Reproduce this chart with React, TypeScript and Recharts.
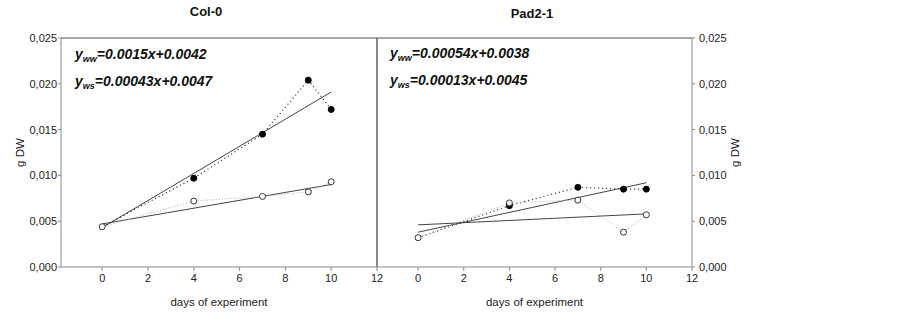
import { ComposedChart, Line, XAxis, YAxis, ReferenceLine } from 'recharts';

const DAYS = [0, 4, 7, 9, 10];
const X_TICKS = [0, 2, 4, 6, 8, 10, 12];
const Y_TICKS = [0, 0.005, 0.01, 0.015, 0.02, 0.025];

// Col-0
const COL_WW = [0.0044, 0.0097, 0.0145, 0.0204, 0.0172];
const COL_WS = [0.0044, 0.0072, 0.0077, 0.0082, 0.0093];
const COL_WW_FIT = [0.0043, null, null, null, 0.0191];
const COL_WS_FIT = [0.0047, null, null, null, 0.009];

// Pad2-1
const PAD_WW = [0.0032, 0.0067, 0.0087, 0.0085, 0.0085];
const PAD_WS = [0.0032, 0.007, 0.0073, 0.0038, 0.0057];
const PAD_WW_FIT = [0.0038, null, null, null, 0.0092];
const PAD_WS_FIT = [0.0046, null, null, null, 0.0058];

const FONT = '"Liberation Sans", Arial, sans-serif';
const AXIS = '#8c8c8c';
const TEXT = '#222';

function table(ww: number[], ws: number[], wwFit: (number | null)[], wsFit: (number | null)[]) {
  return DAYS.map((x, i) => ({ x, ww: ww[i], ws: ws[i], wwFit: wwFit[i], wsFit: wsFit[i] }));
}

const fmtY = (v: number) => v.toFixed(3).replace('.', ',');

const filledDot = (p: any) =>
  p.index === 0 ? <g key={p.index} /> : <circle key={p.index} cx={p.cx} cy={p.cy} r={3} fill="#000" stroke="#000" />;
const openDot = (p: any) => <circle key={p.index} cx={p.cx} cy={p.cy} r={3} fill="#fff" stroke="#333" strokeWidth={1} />;

function Panel({ data, side }: { data: any[]; side: 'left' | 'right' }) {
  const isLeft = side === 'left';
  return (
    <ComposedChart
      width={390}
      height={312}
      data={data}
      margin={isLeft ? { top: 38, right: 13, bottom: 10, left: 11 } : { top: 38, right: 14, bottom: 10, left: 11 }}
      style={{ fontFamily: FONT }}
    >
      <XAxis
        dataKey="x"
        type="number"
        domain={[-1.8, 12]}
        ticks={X_TICKS}
        allowDataOverflow
        height={35}
        tickSize={4}
        tickMargin={3}
        stroke={AXIS}
        tick={{ fill: TEXT, fontSize: 11 }}
        label={{ value: 'days of experiment', position: 'insideBottom', offset: -4, fill: TEXT, fontSize: 11.5 }}
      />
      <YAxis
        orientation={side}
        domain={[0, 0.025]}
        ticks={Y_TICKS}
        width={50}
        tickSize={3}
        tickMargin={isLeft ? 1 : 4}
        tickFormatter={fmtY}
        stroke={AXIS}
        tick={{ fill: TEXT, fontSize: 11 }}
        label={{ value: 'g DW', angle: -90, position: 'center', dx: isLeft ? -16 : 18, fill: TEXT, fontSize: 11.5 }}
      />
      <ReferenceLine y={0.025} stroke={AXIS} strokeWidth={1.5} />
      {isLeft && <ReferenceLine x={12} stroke="#111" strokeWidth={1} />}
      <Line dataKey="wwFit" stroke="#444" strokeWidth={1} dot={false} connectNulls isAnimationActive={false} />
      <Line dataKey="wsFit" stroke="#444" strokeWidth={1} dot={false} connectNulls isAnimationActive={false} />
      <Line dataKey="ww" stroke="#222" strokeWidth={1.2} strokeDasharray="1 3" dot={filledDot} isAnimationActive={false} />
      <Line dataKey="ws" stroke="#aaa" strokeWidth={1} strokeDasharray="1 2" dot={openDot} isAnimationActive={false} />
    </ComposedChart>
  );
}

function Equations({ left, top, ww, ws }: { left: number; top: number; ww: string; ws: string }) {
  const line = { position: 'absolute' as const, left, fontFamily: FONT, fontSize: 14, fontWeight: 700, fontStyle: 'italic', color: '#111', whiteSpace: 'nowrap' as const };
  const sub = { fontSize: 9, verticalAlign: -3 };
  return (
    <>
      <div style={{ ...line, top }}>
        y<span style={sub}>ww</span>={ww}
      </div>
      <div style={{ ...line, top: top + 27 }}>
        y<span style={sub}>ws</span>={ws}
      </div>
    </>
  );
}

export default function App() {
  const title = { position: 'absolute' as const, top: 4, fontFamily: FONT, fontSize: 13, fontWeight: 700, color: '#111', transform: 'translateX(-50%)' };
  return (
    <div style={{ position: 'absolute', left: 0, top: 0, width: 903, height: 312, background: '#fff' }}>
      <div style={{ position: 'absolute', left: 0, top: 0 }}>
        <Panel data={table(COL_WW, COL_WS, COL_WW_FIT, COL_WS_FIT)} side="left" />
      </div>
      <div style={{ position: 'absolute', left: 366, top: 0 }}>
        <Panel data={table(PAD_WW, PAD_WS, PAD_WW_FIT, PAD_WS_FIT)} side="right" />
      </div>
      <div style={{ ...title, left: 206 }}>Col-0</div>
      <div style={{ ...title, left: 532, top: 6 }}>Pad2-1</div>
      <Equations left={75} top={46} ww="0.0015x+0.0042" ws="0.00043x+0.0047" />
      <Equations left={390} top={45} ww="0.00054x+0.0038" ws="0.00013x+0.0045" />
    </div>
  );
}
